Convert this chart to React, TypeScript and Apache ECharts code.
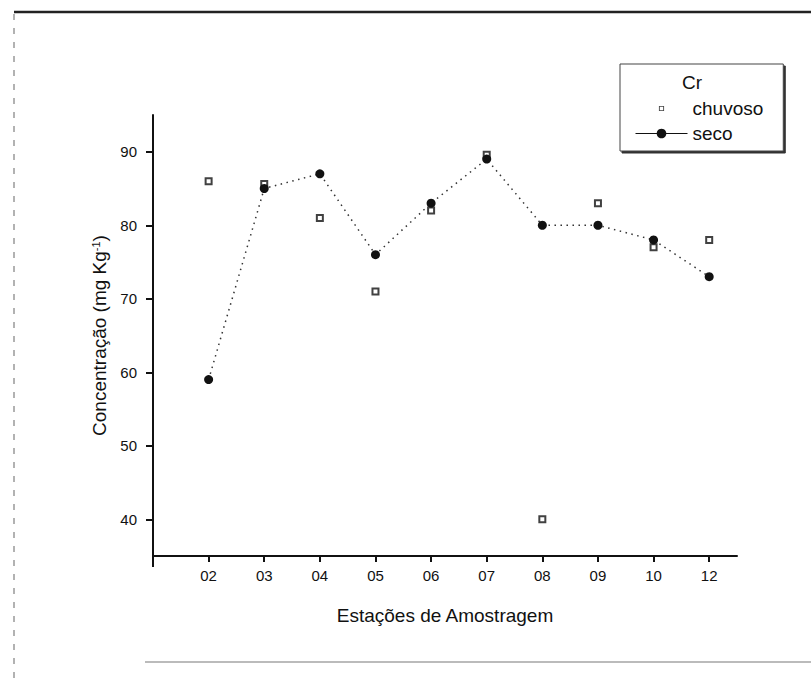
import React, { useEffect, useRef } from "react";
import * as echarts from "echarts";

const stations = ["02", "03", "04", "05", "06", "07", "08", "09", "10", "12"];
const chuvoso = [86, 85.6, 81, 71, 82, 89.6, 40, 83, 77, 78];
const seco = [59, 85, 87, 76, 83, 89, 80, 80, 78, 73];
const yTicks = [40, 50, 60, 70, 80, 90];
const xTicks = stations.map((_, i) => i + 1);

const FONT = "'Liberation Sans', Arial, sans-serif";

export default function App() {
  const ref = useRef<HTMLDivElement>(null);
  useEffect(() => {
    document.body.style.margin = "0";
    const chart = echarts.init(ref.current!, null, { renderer: "svg" });
    chart.setOption({
      animation: false,
      backgroundColor: "#fff",
      title: {
        text: "Cr",
        left: 682,
        top: 73,
        padding: 0,
        textStyle: { fontFamily: FONT, fontSize: 19, fontWeight: "normal", color: "#111" },
      },
      legend: {
        orient: "vertical",
        left: 620,
        top: 64,
        padding: [35, 20, 8, 15],
        itemWidth: 52,
        itemHeight: 12,
        itemGap: 6,
        borderColor: "#444",
        borderWidth: 1,
        backgroundColor: "#fff",
        shadowColor: "#333",
        shadowOffsetX: 2,
        shadowOffsetY: 2,
        shadowBlur: 0,
        textStyle: { fontFamily: FONT, fontSize: 19, color: "#111", lineHeight: 19 },
        data: [
          {
            name: "chuvoso",
            icon: "path://M0,0M14,14M4,4h6v6h-6zM5,5v4h4v-4z",
            itemStyle: { color: "#111", borderWidth: 0 },
          },
          {
            name: "seco",
            lineStyle: { type: "solid", width: 1, color: "#111" },
            itemStyle: { color: "#111" },
          },
        ],
      },
      grid: { left: 153, right: 74, top: 115, bottom: 125 },
      xAxis: {
        type: "value",
        min: 0,
        max: 10.5,
        name: "Estações de Amostragem",
        nameLocation: "middle",
        nameGap: 50,
        nameTextStyle: { fontFamily: FONT, fontSize: 19, color: "#111" },
        axisLine: { lineStyle: { color: "#111", width: 2 } },
        axisTick: { customValues: xTicks, length: 6, lineStyle: { color: "#111", width: 2 } },
        axisLabel: {
          customValues: xTicks,
          formatter: (v: number) => stations[Math.round(v) - 1] ?? "",
          margin: 12,
          fontFamily: FONT,
          fontSize: 15,
          color: "#111",
        },
        splitLine: { show: false },
      },
      yAxis: {
        type: "value",
        min: 35,
        max: 95,
        name: "Concentração (mg Kg{sup|-1})",
        nameLocation: "middle",
        nameGap: 44,
        nameTextStyle: {
          fontFamily: FONT,
          fontSize: 19,
          color: "#111",
          rich: { sup: { fontFamily: FONT, fontSize: 11, color: "#111", verticalAlign: "top", lineHeight: 19 } },
        },
        axisLine: { show: true, lineStyle: { color: "#111", width: 2 } },
        axisTick: { show: true, customValues: yTicks, length: 7, lineStyle: { color: "#111", width: 2 } },
        axisLabel: {
          customValues: yTicks,
          margin: 16,
          fontFamily: FONT,
          fontSize: 15,
          color: "#111",
        },
        splitLine: { show: false },
      },
      graphic: [
        { type: "line", shape: { x1: 14, y1: 12, x2: 811, y2: 12 }, style: { stroke: "#222", lineWidth: 2.5 } },
        { type: "line", shape: { x1: 14, y1: 14, x2: 14, y2: 681 }, style: { stroke: "#999", lineWidth: 1.5, lineDash: [6, 8] } },
        { type: "line", shape: { x1: 145, y1: 662, x2: 811, y2: 662 }, style: { stroke: "#bbb", lineWidth: 2 } },
        { type: "line", shape: { x1: 153, y1: 556, x2: 153, y2: 567 }, style: { stroke: "#111", lineWidth: 2 } },
      ],
      series: [
        {
          name: "chuvoso",
          type: "scatter",
          symbol: "emptyRect",
          symbolSize: 6,
          itemStyle: { color: "#111", borderWidth: 1 },
          data: chuvoso.map((v, i) => [i + 1, v]),
          z: 2,
        },
        {
          name: "seco",
          type: "line",
          symbol: "circle",
          symbolSize: 9,
          showAllSymbol: true,
          itemStyle: { color: "#111" },
          lineStyle: { color: "#333", width: 1.5, type: [1.5, 4.5] },
          data: seco.map((v, i) => [i + 1, v]),
          z: 3,
        },
      ],
    });
    return () => chart.dispose();
  }, []);
  return <div ref={ref} style={{ width: 811, height: 681 }} />;
}
